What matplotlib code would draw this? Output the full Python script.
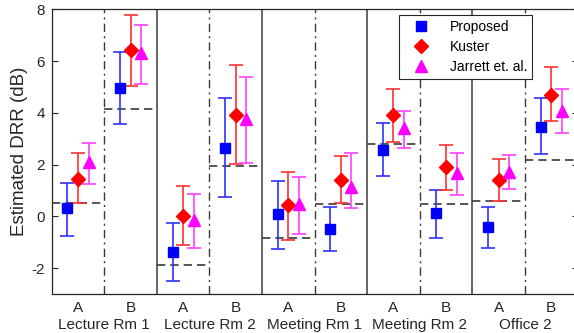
import matplotlib
matplotlib.use('Agg')
import matplotlib.pyplot as plt
import numpy as np

plt.rcParams['font.family'] = ['Liberation Sans', 'DejaVu Sans']

# conditions (room x position)
rooms = ['Lecture Rm 1', 'Lecture Rm 2', 'Meeting Rm 1', 'Meeting Rm 2', 'Office 2']
positions = ['A', 'B'] * 5

# reference DRR (dashed lines)
ref = [0.50, 4.16, -1.86, 1.95, -0.83, 0.46, 2.78, 0.46, 0.60, 2.18]

# estimates: centre, upper whisker, lower whisker
prop_mid = [0.32, 4.96, -1.38, 2.66, 0.09, -0.47, 2.57, 0.12, -0.40, 3.47]
prop_hi = [1.29, 6.34, -0.27, 4.56, 1.38, 0.36, 3.60, 1.02, 0.37, 4.56]
prop_lo = [-0.74, 3.58, -2.48, 0.76, -1.26, -1.32, 1.56, -0.84, -1.23, 2.41]

kust_mid = [1.45, 6.42, 0.02, 3.93, 0.44, 1.41, 3.93, 1.90, 1.41, 4.70]
kust_hi = [2.44, 7.80, 1.17, 5.84, 1.73, 2.34, 4.93, 2.76, 2.21, 5.76]
kust_lo = [0.50, 5.05, -1.12, 2.02, -0.92, 0.53, 2.89, 1.02, 0.60, 3.67]

jarr_mid = [2.10, 6.32, -0.14, 3.76, 0.46, 1.15, 3.43, 1.69, 1.73, 4.09]
jarr_hi = [2.85, 7.39, 0.88, 5.39, 1.51, 2.44, 4.09, 2.44, 2.38, 4.92]
jarr_lo = [1.25, 5.12, -1.24, 2.08, -0.69, 0.31, 2.63, 0.83, 1.05, 3.22]

fig = plt.figure(figsize=(5.74, 3.33), dpi=100)
ax = fig.add_axes([0.0901, 0.117, 0.916, 0.855])

x = np.arange(1, 11)
line_col = '#3a3a3a'

# room separators and A/B separators
for i in range(1, 10):
    if i % 2 == 0:
        ax.axvline(i + 0.5, color=line_col, lw=1.1, zorder=1)
    else:
        ax.axvline(i + 0.5, color=line_col, lw=1.0, ls=(0, (6, 3, 1.5, 3)), zorder=1)

# reference values
for i in range(10):
    ax.plot([x[i] - 0.5, x[i] + 0.5], [ref[i], ref[i]], color=line_col,
            lw=1.2, ls=(0, (5, 3)), zorder=1)

series = [
    ('Proposed', prop_mid, prop_hi, prop_lo, -0.2, 's', 7, '#0000ff', '#3030ff'),
    ('Kuster', kust_mid, kust_hi, kust_lo, 0.0, 'D', 7.5, '#ff0000', '#ff3030'),
    ('Jarrett et. al.', jarr_mid, jarr_hi, jarr_lo, 0.2, '^', 9, '#ff00ff', '#ff40ff'),
]

handles = []
for name, mid, hi, lo, off, mk, ms, col, ecol in series:
    mid = np.array(mid)
    err = [mid - np.array(lo), np.array(hi) - mid]
    ax.errorbar(x + off, mid, yerr=err, fmt='none', ecolor=ecol, elinewidth=1.2,
                capsize=5, capthick=1.2, zorder=2)
    h, = ax.plot(x + off, mid, ls='none', marker=mk, ms=ms, color=col,
                 mec=col, zorder=3, label=name)
    handles.append(h)

ax.set_xlim(0.5, 10.5)
ax.set_ylim(-3, 8)
ax.set_yticks([-2, 0, 2, 4, 6, 8])
ax.set_yticklabels(['-2', '0', '2', '4', '6', '8'])
ax.set_xticks(x)
ax.set_xticklabels(positions)
ax.tick_params(axis='x', length=0, pad=5, labelsize=11, colors='#262626')
ax.tick_params(axis='y', direction='in', length=4, right=True, labelsize=11,
               colors='#262626', width=0.8, pad=5)
for s in ax.spines.values():
    s.set_color('#262626')
    s.set_linewidth(0.9)

for k, room in enumerate(rooms):
    ax.annotate(room, xy=(2 * k + 1.5, 0), xycoords=('data', 'axes fraction'),
                xytext=(0, -17), textcoords='offset points', ha='center',
                va='top', fontsize=11, color='#262626')

ax.set_ylabel('Estimated DRR (dB)', fontsize=13.5, color='#262626', labelpad=2)

leg = ax.legend(handles=handles, loc='upper right', bbox_to_anchor=(0.927, 0.955),
                bbox_transform=fig.transFigure, borderaxespad=0, fancybox=False,
                framealpha=1, edgecolor='#262626', fontsize=10,
                handlelength=2.4, handletextpad=0.9, labelspacing=0.45,
                borderpad=0.35)
leg.get_frame().set_linewidth(0.8)

fig.savefig('out.png', dpi=100)
